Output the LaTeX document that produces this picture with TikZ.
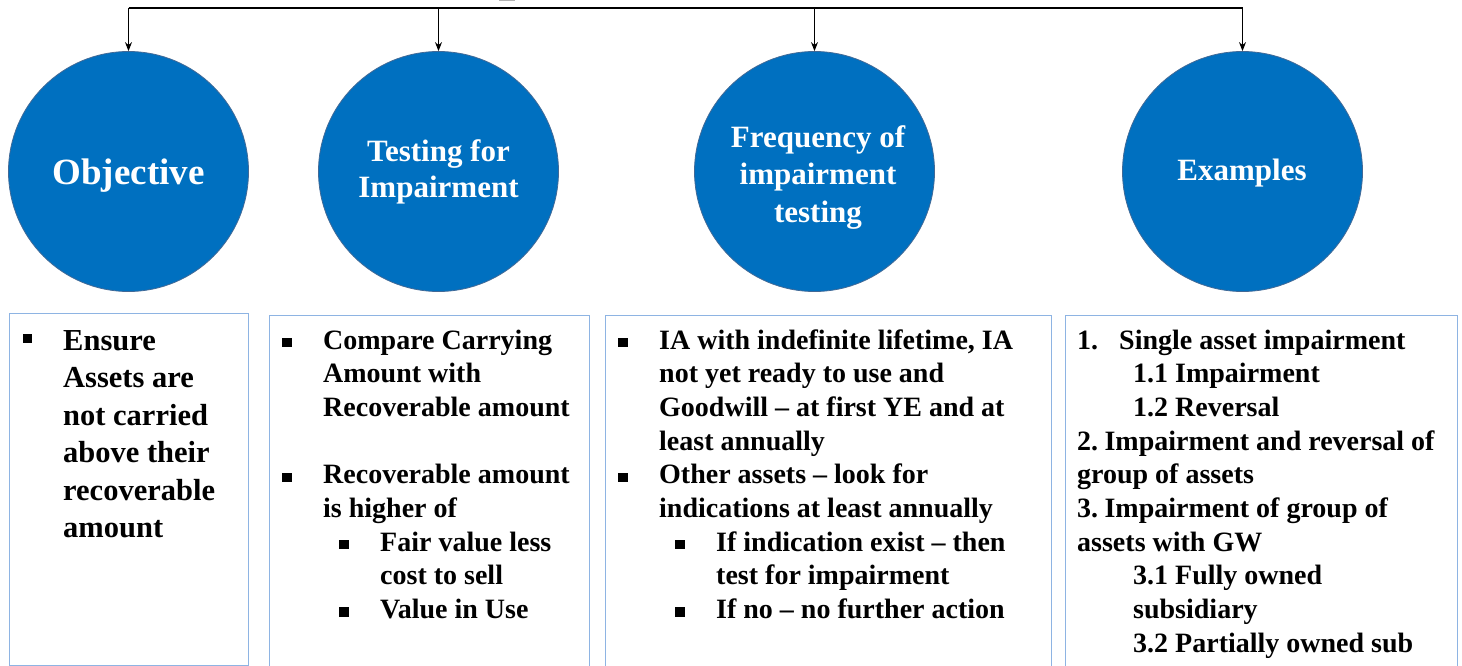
\documentclass[tikz,border=0pt]{standalone}
\usepackage{fontspec}
\setmainfont{Liberation Serif}
\usetikzlibrary{arrows.meta}
\definecolor{cblue}{RGB}{0,112,192}
\definecolor{cedge}{RGB}{65,105,150}
\definecolor{bbord}{RGB}{142,180,227}
\tikzset{
  circ/.style={circle, minimum size=240pt, inner sep=0pt, fill=cblue, draw=cedge, line width=0.8pt},
  ctxt/.style={anchor=base, inner sep=0pt, text=white, font=\fontsize{31}{36}\selectfont\bfseries},
  boxframe/.style={draw=bbord, line width=1pt},
  ln/.style={anchor=base west, inner sep=0pt, font=\fontsize{28}{33.7}\selectfont\bfseries},
  lnbig/.style={anchor=base west, inner sep=0pt, font=\fontsize{30.5}{37.5}\selectfont\bfseries},
  bul/.style={rectangle, fill=black, minimum size=9.5pt, inner sep=0pt},
  arr/.style={-{Stealth[length=9pt,width=7pt]}, line width=1.1pt},
  hline/.style={line width=1.4pt}
}
\begin{document}
\begin{tikzpicture}[x=1pt,y=-1pt]
\useasboundingbox (0,0) rectangle (1462,666);
\fill[gray!60] (499,0) rectangle (515,1.5);
% circles
\node[circ] (c1) at (128.5,171.5) {};
\node[circ] (c2) at (438.5,171.5) {};
\node[circ] (c3) at (814.5,171.5) {};
\node[circ] (c4) at (1242.5,171.5) {};
% top connectors
\coordinate (h1) at (128.5,8);
\coordinate (h2) at (438.5,8);
\coordinate (h3) at (814.5,8);
\coordinate (h4) at (1242.5,8);
\draw[hline] (h1) -- (h4);
\draw[arr] (h1) -- (c1.north);
\draw[arr] (h2) -- (c2.north);
\draw[arr] (h3) -- (c3.north);
\draw[arr] (h4) -- (c4.north);
% circle texts
\node[ctxt, font=\fontsize{37}{40}\selectfont\bfseries] (t1) at (128.5,184) {Objective};
\node[ctxt] (t2a) at (438.5,161) {Testing for};
\node[ctxt] (t2b) at (438.5,197) {Impairment};
\node[ctxt] (t3a) at (818,148) {Frequency of};
\node[ctxt] (t3b) at (818,185) {impairment};
\node[ctxt] (t3c) at (818,222) {testing};
\node[ctxt] (t4) at (1242,180) {Examples};
% boxes
\draw[boxframe] (9,313) rectangle (248,665);
\draw[boxframe] (269,315) rectangle (589,690);
\draw[boxframe] (605,315) rectangle (1051,690);
\draw[boxframe] (1065,315) rectangle (1457,690);
% box 1
\node[bul] (b1) at (27.5,338.5) {};
\node[lnbig] (a1) at (63,350) {Ensure};
\node[lnbig] (a2) at (63,387.5) {Assets are};
\node[lnbig] (a3) at (63,425) {not carried};
\node[lnbig] (a4) at (63,462.5) {above their};
\node[lnbig] (a5) at (63,500) {recoverable};
\node[lnbig] (a6) at (63,537.5) {amount};
% box 2
\node[bul] (b2a) at (287,342.5) {};
\node[ln] (p1) at (323,349) {Compare Carrying};
\node[ln] (p2) at (323,382.7) {Amount with};
\node[ln] (p3) at (323,416.4) {Recoverable amount};
\node[bul] (b2b) at (287,477.3) {};
\node[ln] (p4) at (323,483.8) {Recoverable amount};
\node[ln] (p5) at (323,517.5) {is higher of};
\node[bul] (b2c) at (344,544.7) {};
\node[ln] (p6) at (380,551.2) {Fair value less};
\node[ln] (p7) at (380,584.9) {cost to sell};
\node[bul] (b2d) at (344,612.1) {};
\node[ln] (p8) at (380,618.6) {Value in Use};
% box 3
\node[bul] (b3a) at (623,342.5) {};
\node[ln] (q1) at (659,349) {IA with indefinite lifetime, IA};
\node[ln] (q2) at (659,382.7) {not yet ready to use and};
\node[ln] (q3) at (659,416.4) {Goodwill – at first YE and at};
\node[ln] (q4) at (659,450.1) {least annually};
\node[bul] (b3b) at (623,477.3) {};
\node[ln] (q5) at (659,483.8) {Other assets – look for};
\node[ln] (q6) at (659,517.5) {indications at least annually};
\node[bul] (b3c) at (680,544.7) {};
\node[ln] (q7) at (716,551.2) {If indication exist – then};
\node[ln] (q8) at (716,584.9) {test for impairment};
\node[bul] (b3d) at (680,612.1) {};
\node[ln] (q9) at (716,618.6) {If no – no further action};
% box 4
\node[ln] (r0) at (1077,349) {1.};
\node[ln] (r1) at (1119,349) {Single asset impairment};
\node[ln] (r2) at (1133,382.7) {1.1 Impairment};
\node[ln] (r3) at (1133,416.4) {1.2 Reversal};
\node[ln] (r4) at (1077,450.1) {2.\hspace{-3pt} Impairment and reversal of};
\node[ln] (r5) at (1077,483.8) {group of assets};
\node[ln] (r6) at (1077,517.5) {3.\hspace{-3pt} Impairment of group of};
\node[ln] (r7) at (1077,551.2) {assets with GW};
\node[ln] (r8) at (1133,584.9) {3.1 Fully owned};
\node[ln] (r9) at (1133,618.6) {subsidiary};
\node[ln] (r10) at (1133,652.3) {3.2 Partially owned sub};
\end{tikzpicture}
\end{document}
